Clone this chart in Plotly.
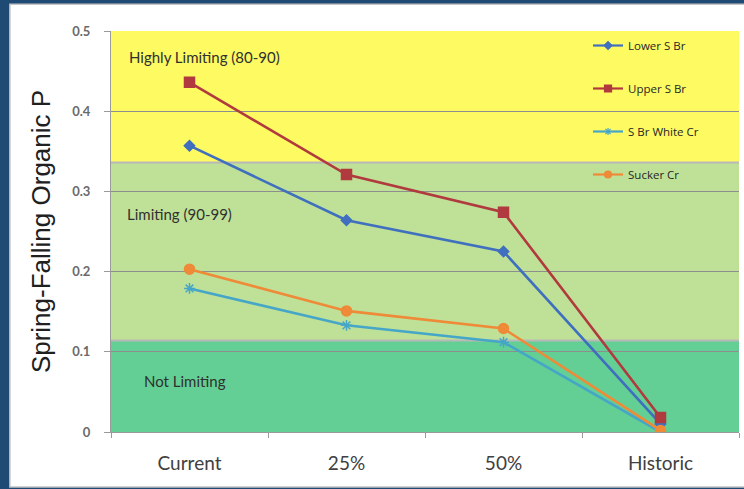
import plotly.graph_objects as go

# Scenario categories on the x axis
scenarios = ["Current", "25%", "50%", "Historic"]

# Spring-falling organic P for each stream
lower_s_br = [0.357, 0.264, 0.225, 0.010]
upper_s_br = [0.436, 0.321, 0.274, 0.018]
s_br_white_cr = [0.179, 0.133, 0.112, 0.000]
sucker_cr = [0.203, 0.151, 0.129, 0.002]

# Limitation bands (lower, upper bound) and their labels
band_not_limiting = (0.0, 0.114)
band_limiting = (0.114, 0.336)
band_highly_limiting = (0.336, 0.5)
band_labels = ["Highly Limiting (80-90)", "Limiting (90-99)", "Not Limiting"]

series = [
    ("Lower S Br", lower_s_br, "#3f6fbe", "diamond", 8, 6),
    ("Upper S Br", upper_s_br, "#b03a3e", "square", 10, 7),
    ("S Br White Cr", s_br_white_cr, "#46a6c8", "asterisk-open", 9, 6),
    ("Sucker Cr", sucker_cr, "#ee8a38", "circle", 10, 7),
]

fig = go.Figure()
for i, (name, vals, color, symbol, size, key_size) in enumerate(series):
    fig.add_trace(go.Scatter(
        x=scenarios, y=vals, name=name, mode="lines+markers",
        showlegend=False,
        line=dict(color=color, width=2.6),
        marker=dict(symbol=symbol, size=size, color=color,
                    line=dict(color=color, width=1.5)),
    ))
    # legend key with a smaller marker
    fig.add_trace(go.Scatter(
        x=[None], y=[None], name=name, mode="lines+markers",
        legendgroup=f"g{i}", hoverinfo="skip",
        line=dict(color=color, width=2.2),
        marker=dict(symbol=symbol, size=key_size, color=color,
                    line=dict(color=color, width=1.2)),
    ))

shapes = [
    # white panel behind the chart
    dict(type="rect", xref="paper", yref="paper", x0=-0.161, x1=1.03,
         y0=-0.137, y1=1.067, fillcolor="white",
         line=dict(color="#c4c4c4", width=1.5), layer="below"),
]
for (lo, hi), col in [(band_highly_limiting, "#fdfa62"),
                      (band_limiting, "#bfe197"),
                      (band_not_limiting, "#63cf94")]:
    shapes.append(dict(type="rect", xref="paper", yref="y", x0=0, x1=1,
                       y0=lo, y1=hi, fillcolor=col, line=dict(width=0),
                       layer="below"))
for edge in (band_limiting[0], band_limiting[1]):
    shapes.append(dict(type="line", xref="paper", yref="y", x0=0, x1=1,
                       y0=edge, y1=edge, line=dict(color="#b8b8b8", width=2),
                       layer="below"))

label_pos = [(0.0255, 0.468), (0.022, 0.272), (0.049, 0.063)]
annotations = []
for text, (px, py) in zip(band_labels, label_pos):
    annotations.append(dict(text=text, xref="paper", yref="y", x=px, y=py,
                            xanchor="left", yanchor="middle", showarrow=False,
                            font=dict(family="Lato", size=15, color="#303030")))

fig.update_layout(
    width=744, height=489,
    margin=dict(l=111, r=5, t=31, b=57),
    paper_bgcolor="#1f4a73",
    plot_bgcolor="rgba(0,0,0,0)",
    shapes=shapes,
    annotations=annotations,
    showlegend=True,
    legend=dict(x=0.7596, y=1.0, xanchor="left", yanchor="top",
                bgcolor="rgba(0,0,0,0)", tracegroupgap=24,
                font=dict(family="Open Sans", size=11.5, color="#262626"),
                itemwidth=30),
    xaxis=dict(type="category", range=[-0.5, 3.5], tickson="boundaries",
               ticks="outside", ticklen=5, tickcolor="#9a9a9a",
               showline=True, linecolor="#9a9a9a", showgrid=False,
               ticklabelstandoff=14,
               tickfont=dict(family="Lato", size=19, color="#404040")),
    yaxis=dict(range=[0, 0.5], dtick=0.1, ticks="outside", ticklen=6,
               tickcolor="#9a9a9a", showline=True, linecolor="#9a9a9a",
               gridcolor="#8e8e8e", gridwidth=1, zeroline=False,
               ticklabelstandoff=11,
               tickfont=dict(family="Lato", size=13, weight="bold",
                             color="#6a6a6a"),
               title=dict(text="Spring-Falling Organic P", standoff=14,
                          font=dict(family="Liberation Sans", size=26,
                                    color="#202020"))),
)

fig.write_html("out.html")
